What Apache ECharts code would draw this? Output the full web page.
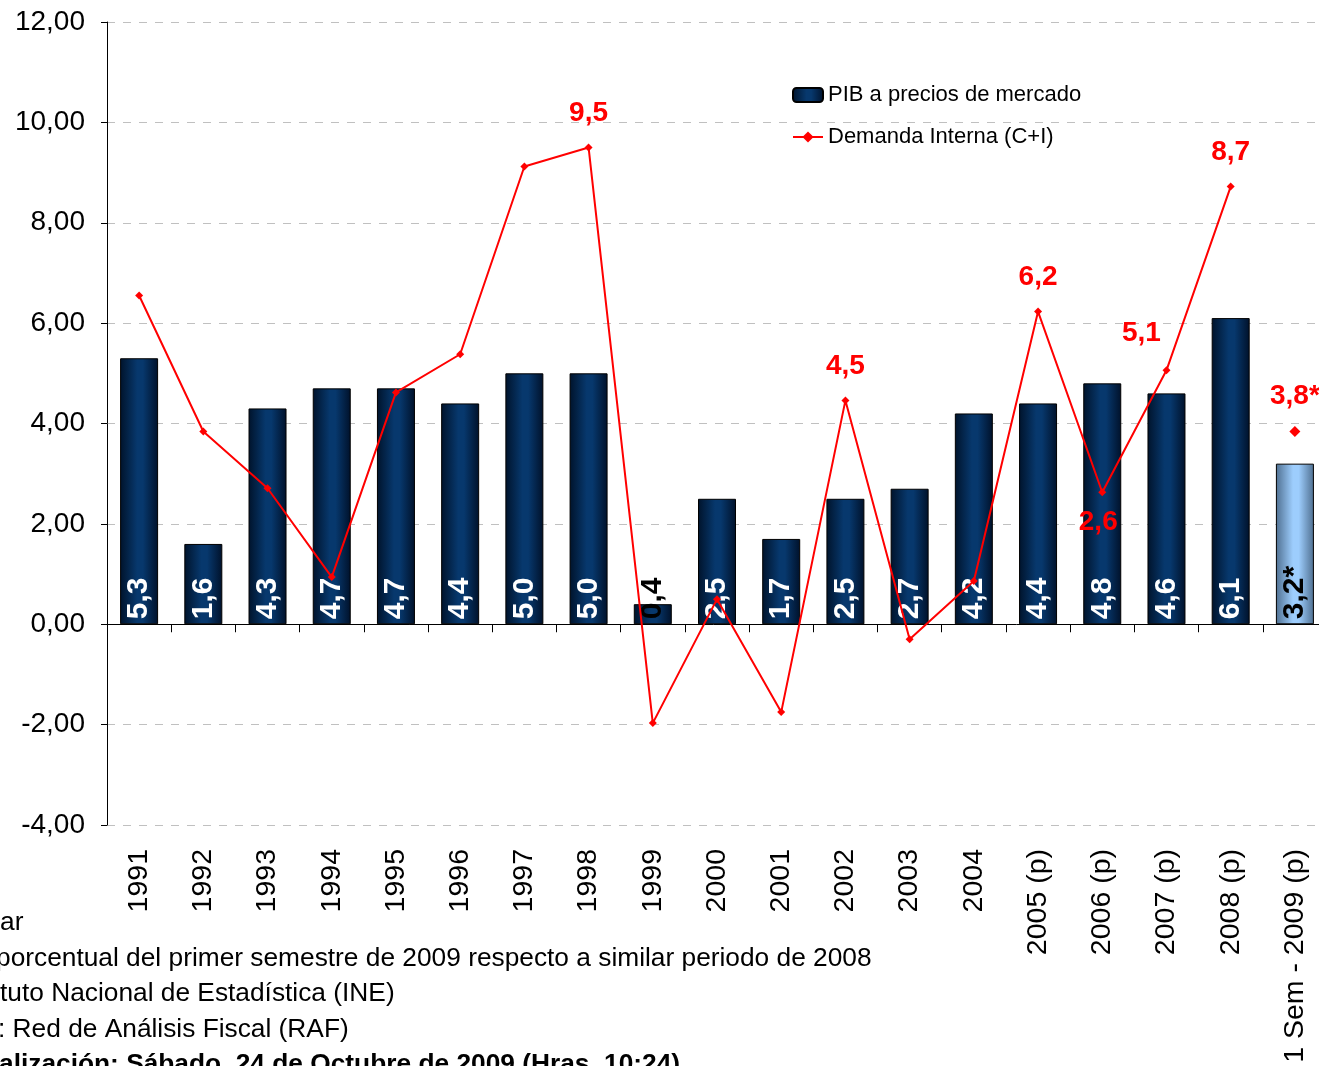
<!DOCTYPE html>
<html>
<head>
  <meta charset="utf-8">
  <script src="https://cdn.jsdelivr.net/npm/echarts@6/dist/echarts.min.js"></script>
</head>
<body style="margin:0">
<div id="main" style="width:1319px;height:1066px;"></div>
<script type="text/javascript">
var categories = ['1991', '1992', '1993', '1994', '1995', '1996', '1997', '1998', '1999', '2000',
  '2001', '2002', '2003', '2004', '2005 (p)', '2006 (p)', '2007 (p)', '2008 (p)', '1 Sem - 2009 (p)'];
var pib = [5.3, 1.6, 4.3, 4.7, 4.7, 4.4, 5.0, 5.0, 0.4, 2.5, 1.7, 2.5, 2.7, 4.2, 4.4, 4.8, 4.6, 6.1, 3.2];
var demanda = [6.55, 3.84, 2.71, 0.94, 4.62, 5.38, 9.12, 9.5, -1.97, 0.5, -1.75, 4.46, -0.3, 0.86,
  6.23, 2.63, 5.06, 8.72, null];
var demanda2009 = 3.84;
var notes = [
  'ar',
  'porcentual del primer semestre de 2009 respecto a similar periodo de 2008',
  'tuto Nacional de Estadística (INE)',
  ': Red de Análisis Fiscal (RAF)',
  'alización: Sábado, 24 de Octubre de 2009 (Hras. 10:24)'
];

// which line points carry a label, and where
var lineLabelPos = { 7: 'top', 11: 'top', 14: 'top', 15: 'bottom', 16: 'topleft', 17: 'top' };

var font = 'Liberation Sans, Arial, sans-serif';
var comma = function (v, d) { return v.toFixed(d).replace('.', ','); };

var darkBar = new echarts.graphic.LinearGradient(0, 0, 1, 0, [
  { offset: 0, color: '#00132b' },
  { offset: 0.45, color: '#07386d' },
  { offset: 0.6, color: '#07386d' },
  { offset: 1, color: '#00112a' }
]);
var lightBar = new echarts.graphic.LinearGradient(0, 0, 1, 0, [
  { offset: 0, color: '#4f6f90' },
  { offset: 0.45, color: '#9dcdfd' },
  { offset: 0.6, color: '#9dcdfd' },
  { offset: 1, color: '#4f6f90' }
]);

var barData = pib.map(function (v, i) {
  var last = i === pib.length - 1;
  var item = { value: v, itemStyle: { color: last ? lightBar : darkBar } };
  if (last || v < 1) item.label = { color: '#000' };
  return item;
});

var lineData = demanda.map(function (v, i) {
  var pos = lineLabelPos[i];
  if (!pos) return v;
  var lab = { show: true, position: pos };
  if (pos === 'topleft') lab = { show: true, position: 'top', offset: [-25, -3] };
  if (pos === 'bottom') lab = { show: true, position: 'bottom', offset: [-4, -4] };
  return { value: v, label: lab };
});

var extraData = categories.map(function (c, i) {
  return i === categories.length - 1 ? demanda2009 : null;
});

var myChart = echarts.init(document.getElementById('main'));
myChart.setOption({
  animation: false,
  textStyle: { fontFamily: font },
  grid: { left: 107, top: 22, width: 1220, height: 803, outerBoundsMode: 'none', containLabel: false },
  legend: {
    orient: 'vertical',
    left: 787,
    top: 79,
    itemWidth: 30,
    itemHeight: 14,
    itemGap: 20,
    data: ['PIB a precios de mercado', 'Demanda Interna (C+I)'],
    textStyle: { fontSize: 22, color: '#000', fontFamily: font }
  },
  xAxis: [{
    type: 'category',
    data: categories,
    axisLine: { onZero: true, lineStyle: { color: '#000', width: 1 } },
    axisTick: { show: true, length: 8, interval: 0, lineStyle: { color: '#000' } },
    axisLabel: { show: false }
  }, {
    type: 'category',
    data: categories,
    position: 'bottom',
    offset: 0,
    axisLine: { show: false, onZero: false },
    axisTick: { show: false },
    axisLabel: { rotate: 90, fontSize: 28.5, color: '#000', margin: 24, fontFamily: font, interval: 0 }
  }],
  yAxis: {
    type: 'value',
    min: -4,
    max: 12,
    interval: 2,
    axisLine: { show: true, lineStyle: { color: '#000' } },
    axisTick: { show: true, length: 6, lineStyle: { color: '#000' } },
    axisLabel: { fontSize: 28, color: '#000', margin: 22, fontFamily: font,
      formatter: function (v) { return comma(v, 2); } },
    splitLine: { lineStyle: { color: '#c0c0c0', type: [8, 8], width: 1 } }
  },
  series: [{
    name: 'PIB a precios de mercado',
    type: 'bar',
    barWidth: 38,
    data: barData,
    itemStyle: { color: darkBar, borderColor: '#000', borderWidth: 1 },
    label: {
      show: true,
      position: 'insideBottom',
      rotate: 90,
      align: 'left',
      verticalAlign: 'middle',
      distance: 5,
      fontSize: 30,
      fontWeight: 'bold',
      color: '#fff',
      fontFamily: font,
      formatter: function (p) {
        return comma(p.value, 1) + (p.dataIndex === categories.length - 1 ? '*' : '');
      }
    }
  }, {
    name: 'Demanda Interna (C+I)',
    type: 'line',
    data: lineData,
    z: 5,
    symbol: 'diamond',
    symbolSize: 8,
    itemStyle: { color: '#ff0000' },
    lineStyle: { color: '#ff0000', width: 2 },
    label: {
      show: false,
      fontSize: 28,
      fontWeight: 'bold',
      color: '#ff0000',
      distance: 16,
      fontFamily: font,
      formatter: function (p) { return comma(p.value, 1); }
    }
  }, {
    name: 'Demanda 2009',
    type: 'line',
    data: extraData,
    z: 5,
    symbol: 'diamond',
    symbolSize: 11,
    itemStyle: { color: '#ff0000' },
    lineStyle: { width: 0 },
    label: {
      show: true,
      position: 'top',
      distance: 16,
      fontSize: 28,
      fontWeight: 'bold',
      color: '#ff0000',
      fontFamily: font,
      formatter: function (p) { return comma(p.value, 1) + '*'; }
    }
  }],
  graphic: notes.map(function (t, i) {
    var xs = [0, -4, 0, -2, -1];
    return {
      type: 'text',
      left: xs[i],
      top: 910 + i * 35.5,
      style: {
        text: t,
        fontSize: 26.3,
        fontFamily: font,
        fontWeight: i === 4 ? 'bold' : 'normal',
        fill: '#000'
      }
    };
  })
});
</script>
</body>
</html>
